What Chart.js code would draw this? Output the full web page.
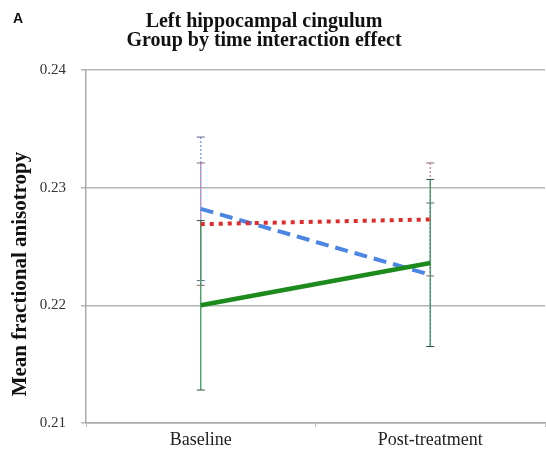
<!DOCTYPE html>
<html>
<head>
<meta charset="utf-8">
<script src="https://cdn.jsdelivr.net/npm/chart.js@4/dist/chart.umd.min.js"></script>
<style>
  html, body { margin: 0; padding: 0; background: #ffffff; }
  #wrap { width: 546px; height: 456px; position: relative; }
</style>
</head>
<body>
<div id="wrap"><canvas id="c" width="546" height="456"></canvas></div>
<script>
// ---- data ----
const categories = ['Baseline', 'Post-treatment'];
const greenMeans = [0.2200, 0.2236];
const greenErr   = [0.0072, 0.0071];
const redMeans   = [0.2269, 0.2273];
const redErr     = [0.0052, 0.0048];
const blueMeans  = [0.2282, 0.2226];
const blueErr    = [0.0061, 0.0061];
const yTicks     = [0.21, 0.22, 0.23, 0.24];

const titleLines = ['Left hippocampal cingulum', 'Group by time interaction effect'];
const panelLetter = 'A';
const yTitle = 'Mean fractional anisotropy';

const SERIF = '"Liberation Serif", "Times New Roman", serif';

const errorBarPlugin = {
  id: 'errorBars',
  beforeDatasetsDraw(chart) {
    const ctx = chart.ctx;
    const y = chart.scales.y;
    // draw order: blue, red, green
    const drawOrder = [2, 1, 0];
    drawOrder.forEach(di => {
      const ds = chart.data.datasets[di];
      const meta = chart.getDatasetMeta(di);
      ds.errors.forEach((e, i) => {
        const x = meta.data[i].x;
        const yTop = y.getPixelForValue(ds.data[i] + e);
        const yBot = y.getPixelForValue(ds.data[i] - e);
        ctx.save();
        ctx.strokeStyle = ds.errColor;
        ctx.lineWidth = 1.3;
        ctx.setLineDash(ds.errDash);
        ctx.beginPath();
        ctx.moveTo(x, yTop);
        ctx.lineTo(x, yBot);
        ctx.stroke();
        ctx.setLineDash([]);
        ctx.strokeStyle = ds.capColor;
        ctx.lineWidth = 1;
        ctx.beginPath();
        ctx.moveTo(x - 4, yTop); ctx.lineTo(x + 4, yTop);
        ctx.moveTo(x - 4, yBot); ctx.lineTo(x + 4, yBot);
        ctx.stroke();
        ctx.restore();
      });
    });
  }
};

const textPlugin = {
  id: 'texts',
  afterDraw(chart) {
    const ctx = chart.ctx;
    ctx.save();
    ctx.fillStyle = '#111';
    ctx.textAlign = 'left';
    ctx.textBaseline = 'alphabetic';
    ctx.font = 'bold 14px "Liberation Sans", Arial, sans-serif';
    ctx.fillText(panelLetter, 13, 23);
    ctx.textAlign = 'center';
    ctx.font = 'bold 20px ' + SERIF;
    ctx.fillText(titleLines[0], 264, 27);
    ctx.fillText(titleLines[1], 264, 46);
    ctx.translate(26, 274);
    ctx.rotate(-Math.PI / 2);
    ctx.font = 'bold 21px ' + SERIF;
    ctx.fillText(yTitle, 0, 0);
    ctx.restore();
  }
};

new Chart(document.getElementById('c'), {
  type: 'line',
  data: {
    labels: categories,
    datasets: [
      { label: 'Group 3', data: greenMeans, errors: greenErr,
        borderColor: '#1c8a1c', borderWidth: 4.5, pointRadius: 0,
        errColor: '#3a9a5c', errDash: [], capColor: '#335544' },
      { label: 'Group 2', data: redMeans, errors: redErr,
        borderColor: '#e32a2a', borderWidth: 4, borderDash: [4, 5], pointRadius: 0,
        errColor: '#d678a8', errDash: [2, 2], capColor: '#886677' },
      { label: 'Group 1', data: blueMeans, errors: blueErr,
        borderColor: '#4c86e4', borderWidth: 4, borderDash: [13, 7], pointRadius: 0,
        errColor: '#6c9be6', errDash: [2, 2], capColor: '#556688' }
    ]
  },
  options: {
    responsive: false,
    animation: false,
    layout: { padding: { top: 70, right: 1, left: 0, bottom: 0 } },
    plugins: { legend: { display: false }, tooltip: { enabled: false } },
    scales: {
      x: {
        offset: true,
        grid: { display: true, drawOnChartArea: false, offset: true, tickLength: 4, color: '#bbbbbb' },
        border: { color: '#aaaaaa', width: 1.5 },
        ticks: { color: '#222', font: { family: SERIF, size: 18 }, padding: 2 },
        afterFit(s) { s.height = 33; }
      },
      y: {
        min: 0.21, max: 0.24,
        afterBuildTicks(s) { s.ticks = yTicks.map(v => ({ value: v })); },
        grid: { color: '#b5b5b5', lineWidth: 1.5, tickLength: 5 },
        border: { color: '#aaaaaa', width: 1.5 },
        ticks: { color: '#333', font: { family: SERIF, size: 15 }, padding: 15,
                 callback: v => v.toFixed(2) },
        afterFit(s) { s.width = 86; }
      }
    }
  },
  plugins: [errorBarPlugin, textPlugin]
});
</script>
</body>
</html>
